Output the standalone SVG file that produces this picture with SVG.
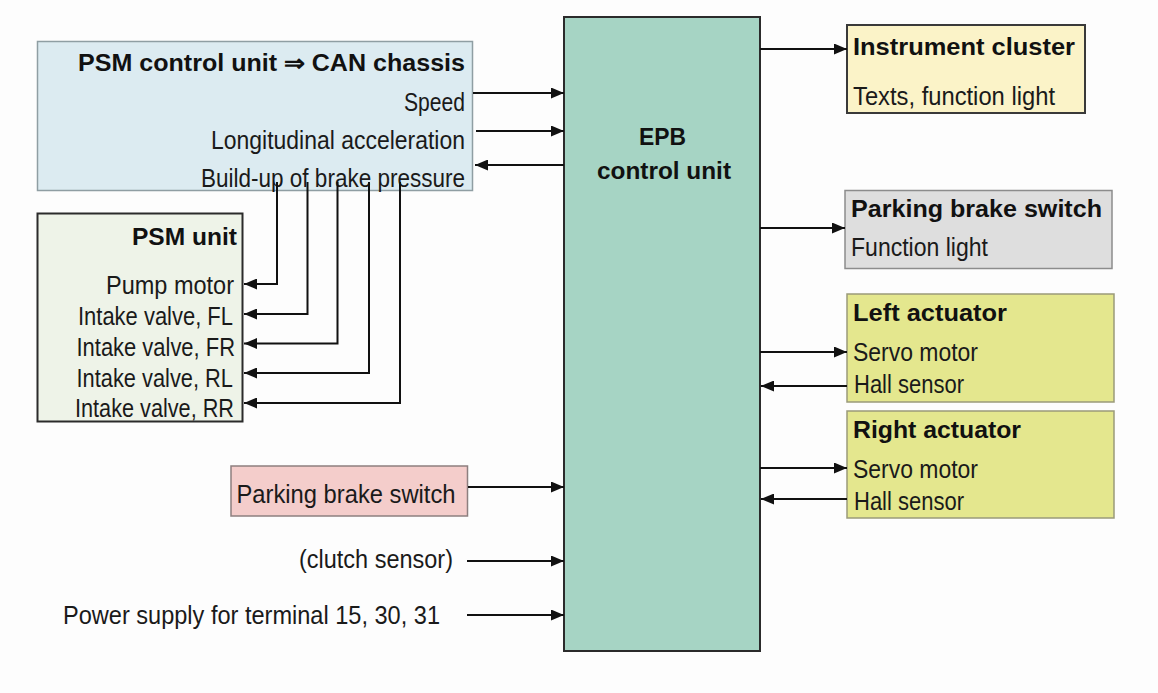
<svg xmlns="http://www.w3.org/2000/svg" width="1158" height="693" viewBox="0 0 1158 693">
<defs>
<marker id="ah" markerUnits="userSpaceOnUse" markerWidth="13" markerHeight="11" refX="13" refY="5.5" orient="auto">
<path d="M0,0 L13,5.5 L0,11 z" fill="#111"/>
</marker>
<style>
.t{font-family:"Liberation Sans",Arial,sans-serif;font-size:25.5px;fill:#1a1a1a}
.b{font-family:"Liberation Sans",Arial,sans-serif;font-size:23px;font-weight:bold;fill:#111}
.c{fill:none;stroke:#111;stroke-width:2;marker-end:url(#ah)}
</style>
</defs>
<rect x="0" y="0" width="1158" height="693" fill="#fdfdfd"/>

<g id="psm-can">
<rect x="37.5" y="41.5" width="435" height="149" fill="#dcebf1" stroke="#8f9ea3" stroke-width="1.5"/>
<text class="b" x="78" y="71" textLength="387" lengthAdjust="spacingAndGlyphs">PSM control unit ⇒ CAN chassis</text>
<text class="t" x="404" y="111" textLength="61" lengthAdjust="spacingAndGlyphs">Speed</text>
<text class="t" x="211" y="149" textLength="254" lengthAdjust="spacingAndGlyphs">Longitudinal acceleration</text>
<text class="t" x="201" y="187" textLength="264" lengthAdjust="spacingAndGlyphs">Build-up of brake pressure</text>
</g>

<g id="psm-unit">
<rect x="37.5" y="213.5" width="205" height="208" fill="#eef3e8" stroke="#2b2b2b" stroke-width="2"/>
<text class="b" x="132" y="245" textLength="105" lengthAdjust="spacingAndGlyphs">PSM unit</text>
<text class="t" x="106" y="294" textLength="128" lengthAdjust="spacingAndGlyphs">Pump motor</text>
<text class="t" x="78" y="325" textLength="155" lengthAdjust="spacingAndGlyphs">Intake valve, FL</text>
<text class="t" x="76.5" y="356" textLength="158.5" lengthAdjust="spacingAndGlyphs">Intake valve, FR</text>
<text class="t" x="76.5" y="387" textLength="156.5" lengthAdjust="spacingAndGlyphs">Intake valve, RL</text>
<text class="t" x="75" y="417" textLength="159" lengthAdjust="spacingAndGlyphs">Intake valve, RR</text>
</g>

<g id="epb">
<rect x="564" y="17" width="196" height="634" fill="#a6d4c4" stroke="#2b2b2b" stroke-width="2"/>
<text class="b" x="639" y="145" textLength="47" lengthAdjust="spacingAndGlyphs">EPB</text>
<text class="b" x="597" y="179" textLength="134" lengthAdjust="spacingAndGlyphs">control unit</text>
</g>

<g id="parking-switch-in">
<rect x="231" y="466" width="236.5" height="50" fill="#f4cdcb" stroke="#8d7f7f" stroke-width="1.5"/>
<text class="t" x="236.5" y="503" textLength="219" lengthAdjust="spacingAndGlyphs">Parking brake switch</text>
</g>

<g id="clutch">
<text class="t" x="299" y="568" textLength="154" lengthAdjust="spacingAndGlyphs">(clutch sensor)</text>
</g>

<g id="power">
<text class="t" x="63" y="624" textLength="377" lengthAdjust="spacingAndGlyphs">Power supply for terminal 15, 30, 31</text>
</g>

<g id="instrument-cluster">
<rect x="847" y="25" width="238" height="88" fill="#fbf3c8" stroke="#3a3a3a" stroke-width="2"/>
<text class="b" x="853" y="55" textLength="222" lengthAdjust="spacingAndGlyphs">Instrument cluster</text>
<text class="t" x="853" y="105" textLength="202" lengthAdjust="spacingAndGlyphs">Texts, function light</text>
</g>

<g id="parking-switch-out">
<rect x="845" y="190.5" width="267" height="78" fill="#dedede" stroke="#8c8c8c" stroke-width="1.5"/>
<text class="b" x="851" y="217" textLength="251" lengthAdjust="spacingAndGlyphs">Parking brake switch</text>
<text class="t" x="851" y="256" textLength="137" lengthAdjust="spacingAndGlyphs">Function light</text>
</g>

<g id="left-actuator">
<rect x="847" y="294" width="267" height="108" fill="#e4e78e" stroke="#9a9a7a" stroke-width="1.5"/>
<text class="b" x="853" y="321" textLength="154" lengthAdjust="spacingAndGlyphs">Left actuator</text>
<text class="t" x="853" y="361" textLength="125" lengthAdjust="spacingAndGlyphs">Servo motor</text>
<text class="t" x="854" y="393" textLength="110" lengthAdjust="spacingAndGlyphs">Hall sensor</text>
</g>

<g id="right-actuator">
<rect x="847" y="411" width="267" height="107" fill="#e4e78e" stroke="#9a9a7a" stroke-width="1.5"/>
<text class="b" x="853" y="438" textLength="168" lengthAdjust="spacingAndGlyphs">Right actuator</text>
<text class="t" x="853" y="478" textLength="125" lengthAdjust="spacingAndGlyphs">Servo motor</text>
<text class="t" x="854" y="510" textLength="110" lengthAdjust="spacingAndGlyphs">Hall sensor</text>
</g>

<g id="connectors">
<line class="c" x1="473" y1="93" x2="564" y2="93"/>
<line class="c" x1="476" y1="131" x2="564" y2="131"/>
<line class="c" x1="564" y1="165" x2="475" y2="165"/>
<polyline class="c" points="277,182 277,284 244,284"/>
<polyline class="c" points="307.5,182 307.5,314 244,314"/>
<polyline class="c" points="337.5,182 337.5,343.5 244,343.5"/>
<polyline class="c" points="369,182 369,373 244,373"/>
<polyline class="c" points="400,182 400,403 244,403"/>
<line class="c" x1="468" y1="487" x2="564" y2="487"/>
<line class="c" x1="467" y1="561" x2="564" y2="561"/>
<line class="c" x1="467" y1="615" x2="564" y2="615"/>
<line class="c" x1="760" y1="49" x2="847" y2="49"/>
<line class="c" x1="760" y1="228" x2="845" y2="228"/>
<line class="c" x1="760" y1="352" x2="847" y2="352"/>
<line class="c" x1="847" y1="386" x2="761" y2="386"/>
<line class="c" x1="760" y1="468" x2="847" y2="468"/>
<line class="c" x1="847" y1="499" x2="761" y2="499"/>
</g>
</svg>
